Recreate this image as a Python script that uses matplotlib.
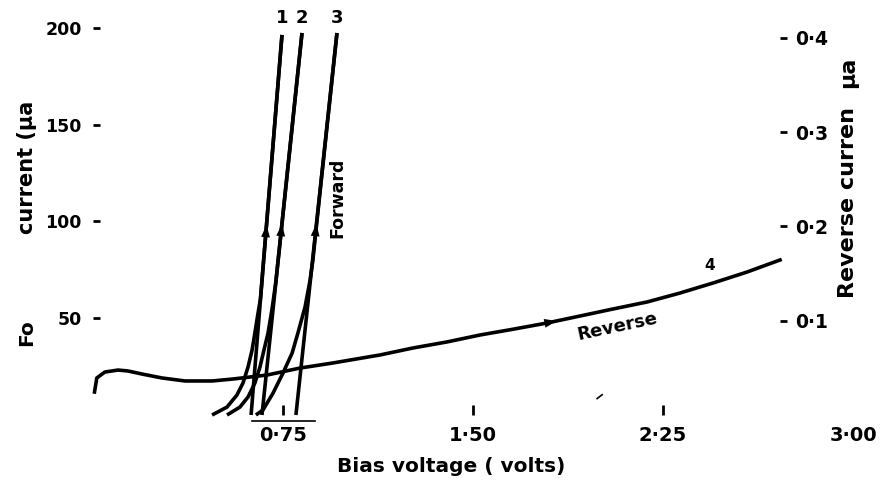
#Forward and reverse bias characteristics (scanned figure)

import matplotlib
matplotlib.use('Agg')
import matplotlib.pyplot as plt
import numpy as np

# forward curves 1-3: curved rising branch, then the straight line
fwd_branch_x = [
    [0.470, 0.529, 0.568, 0.592, 0.612, 0.628, 0.639, 0.650, 0.661, 0.746],
    [0.529, 0.580, 0.612, 0.639, 0.659, 0.675, 0.691, 0.707, 0.721, 0.825],
    [0.643, 0.671, 0.711, 0.750, 0.786, 0.809, 0.837, 0.857, 0.868, 0.876, 0.963],
]
fwd_branch_y = [
    [0, 4.1, 10.3, 16.5, 24.8, 33.6, 42.4, 51.5, 60.0, 196.4],
    [0, 4.1, 9.3, 16.5, 24.8, 33.6, 42.4, 55.0, 68.0, 197.4],
    [0, 2.6, 11.4, 21.7, 32.0, 42.4, 55.8, 69.8, 80.1, 90.4, 197.4],
]
# straight line extrapolated down to zero current
fwd_line_x = [[0.624, 0.746], [0.667, 0.825], [0.801, 0.963]]
fwd_line_y = [[0, 196.4], [0, 197.4], [0, 197.4]]
fwd_labels = ['1', '2', '3']

# reverse curve 4 (right axis, micro amp)
rev_x = [0.006, 0.015, 0.047, 0.099, 0.138, 0.193, 0.272, 0.363, 0.470, 0.553,
         0.687, 0.817, 0.947, 1.133, 1.263, 1.397, 1.528, 1.658, 1.792, 1.922,
         2.053, 2.187, 2.317, 2.447, 2.582, 2.712]
rev_y = [0.0244, 0.0393, 0.0456, 0.0477, 0.0467, 0.0435, 0.0393, 0.0361, 0.0361, 0.0382,
         0.0424, 0.0498, 0.0552, 0.0637, 0.0711, 0.0775, 0.0849, 0.0910, 0.0976, 0.1050,
         0.1125, 0.1199, 0.1294, 0.1400, 0.1517, 0.1645]

left_ticks = [50, 100, 150, 200]
left_ticklabels = ['50', '100', '150', '200']
right_ticks = [0.1, 0.2, 0.3, 0.4]
right_ticklabels = ['0·1', '0·2', '0·3', '0·4']
x_ticks = [0.75, 1.50, 2.25, 3.00]
x_ticklabels = ['0·75', '1·50', '2·25', '3·00']

W, H = 893, 482
fig = plt.figure(figsize=(W / 100, H / 100), dpi=100)
bold = dict(fontweight='bold', family='DejaVu Sans')
arrow = dict(arrowstyle='-|>,head_length=0.55,head_width=0.2', color='black', lw=0,
             mutation_scale=16, shrinkA=0, shrinkB=0)

# main axes: x 0..3 -> px 93..853, y 0 at px 415
ax = fig.add_axes([93 / W, (H - 415) / H, 760 / W, 400 / H])
ax.set_xlim(0, 3.0)
ax.set_ylim(0, 206.7)
for s in ax.spines.values():
    s.set_visible(False)

lw = 2.6
for bx, by, lx, ly, lab in zip(fwd_branch_x, fwd_branch_y, fwd_line_x, fwd_line_y, fwd_labels):
    ax.plot(bx, by, color='black', lw=lw, solid_capstyle='butt', solid_joinstyle='round', clip_on=False)
    ax.plot(lx, ly, color='black', lw=lw, solid_capstyle='butt', clip_on=False)
    # arrow head on the straight part
    t0, t1 = 0.42, 0.50
    p0 = (lx[0] + t0 * (lx[1] - lx[0]), ly[0] + t0 * (ly[1] - ly[0]))
    p1 = (lx[0] + t1 * (lx[1] - lx[0]), ly[0] + t1 * (ly[1] - ly[0]))
    ax.annotate('', xy=p1, xytext=p0, arrowprops=arrow)
    ax.text(lx[1], 205, lab, ha='center', va='center', fontsize=13, **bold)

ax.text(0.964, 112, 'Forward', rotation=90, ha='center', va='center', fontsize=12.5, **bold)

# stray pieces of the scanned axis line
ax.plot([0.628, 0.876], [-3.1, -3.1], color='black', lw=1.2, clip_on=False)
ax.plot([1.99, 2.01], [8.5, 10.5], color='black', lw=1.2, clip_on=False)

ax.set_yticks(left_ticks)
ax.set_yticklabels(left_ticklabels)
ax.set_xticks(x_ticks)
ax.set_xticklabels(x_ticklabels)
ax.tick_params(axis='y', direction='in', length=5, width=2, pad=8, labelsize=12.5)
ax.tick_params(axis='x', direction='in', length=7, width=2, pad=8, labelsize=14)
ax.xaxis.get_major_ticks()[-1].tick1line.set_visible(False)
for t in ax.get_yticklabels() + ax.get_xticklabels():
    t.set_fontweight('bold')

# right axes: its spine sits at px 780 (x = 2.712)
ax2 = fig.add_axes([93 / W, (H - 415) / H, 687 / W, 400 / H], facecolor='none')
ax2.set_xlim(0, 687 / 253.33)
ax2.set_ylim(0, 0.4244)
for s in ax2.spines.values():
    s.set_visible(False)
ax2.xaxis.set_visible(False)
ax2.yaxis.tick_right()
ax2.set_yticks(right_ticks)
ax2.set_yticklabels(right_ticklabels)
ax2.tick_params(axis='y', direction='out', length=5, width=2, pad=6, labelsize=13.5)
for t in ax2.get_yticklabels():
    t.set_fontweight('bold')

ax2.plot(rev_x, rev_y, color='black', lw=lw, solid_joinstyle='round', clip_on=False)
ax2.annotate('', xy=(1.83, np.interp(1.83, rev_x, rev_y)),
             xytext=(1.74, np.interp(1.74, rev_x, rev_y)), arrowprops=arrow)
ax2.text(2.068, 0.0934, 'Reverse', rotation=12, ha='center', va='center', fontsize=13, **bold)
ax2.text(2.435, 0.159, '4', ha='center', va='center', fontsize=11, **bold)

# axis titles (partly lost in the scan)
fig.text(451 / W, 1 - 467 / H, 'Bias voltage ( volts)', ha='center', va='center', fontsize=14.5, **bold)
fig.text(27 / W, 1 - 167 / H, 'current (μa', rotation=90, ha='center', va='center', fontsize=15, **bold)
fig.text(27 / W, 1 - 333 / H, 'Fo', rotation=90, ha='center', va='center', fontsize=14.5, **bold)
fig.text(848 / W, 1 - 202 / H, 'Reverse curren', rotation=90, ha='center', va='center', fontsize=16, **bold)
fig.text(848 / W, 1 - 72 / H, 'μa', rotation=90, ha='center', va='center', fontsize=16, **bold)

fig.savefig('out.png', dpi=100)
